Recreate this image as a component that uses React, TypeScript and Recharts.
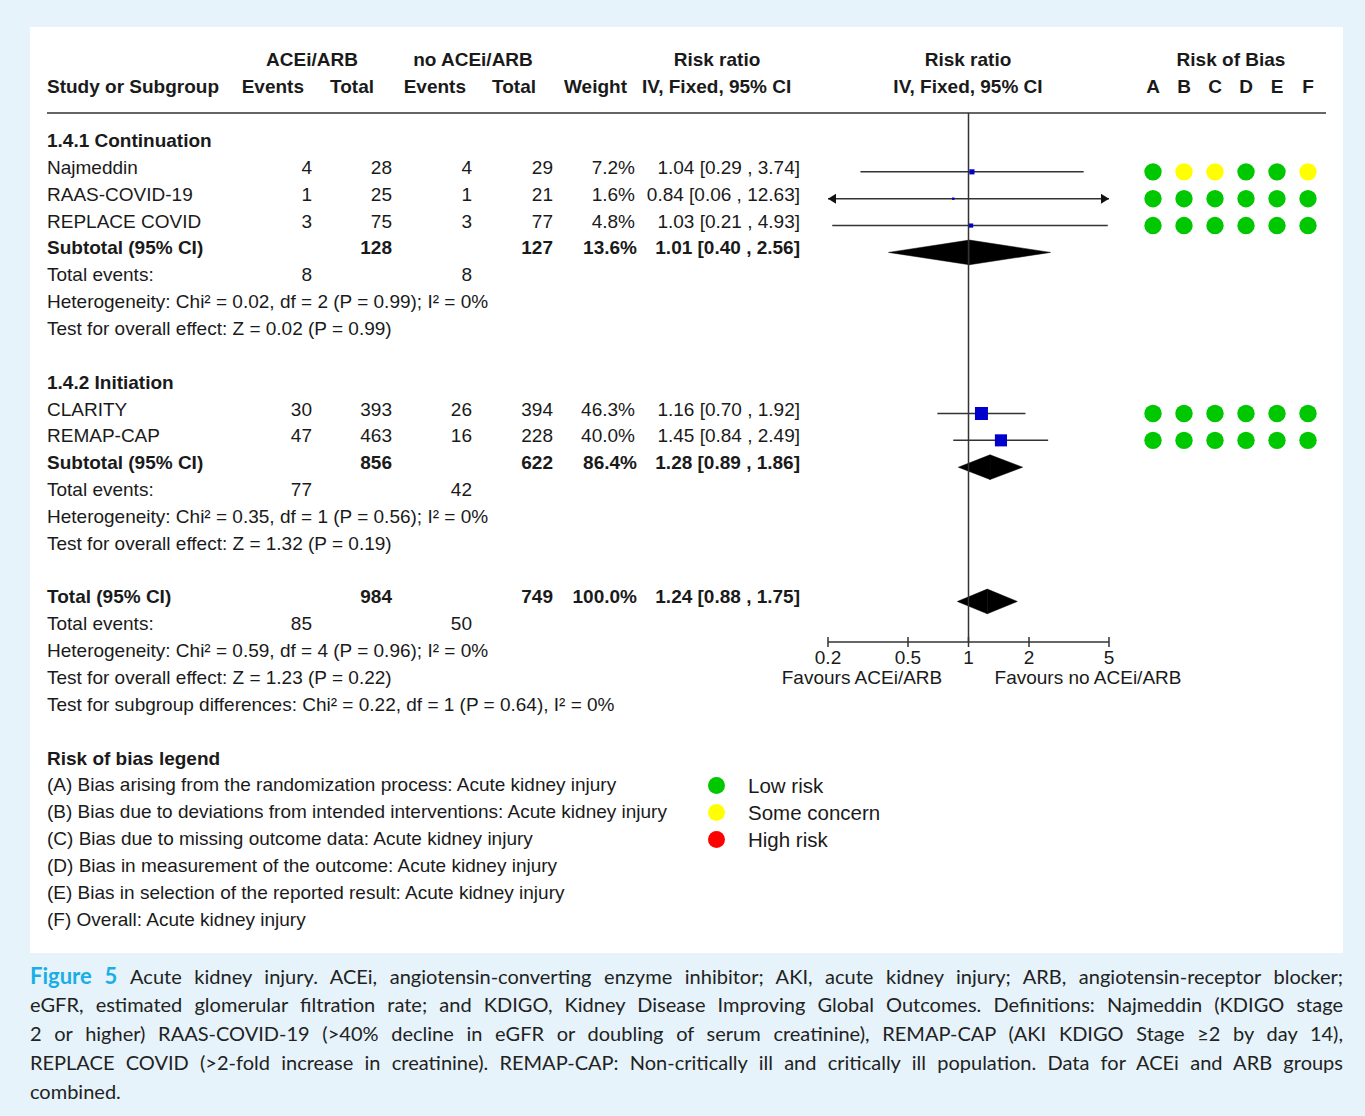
import React from "react";
import {
  ScatterChart,
  Scatter,
  XAxis,
  YAxis,
  ZAxis,
  ReferenceLine,
  ReferenceArea,
} from "recharts";

// ---- data ----
const studyNames = ["Najmeddin", "RAAS-COVID-19", "REPLACE COVID", "CLARITY", "REMAP-CAP"];
const studyRows = [1, 2, 3, 10, 11];
const aceEvents = [4, 1, 3, 30, 47];
const aceTotals = [28, 25, 75, 393, 463];
const noEvents = [4, 1, 3, 26, 16];
const noTotals = [29, 21, 77, 394, 228];
const weights = [7.2, 1.6, 4.8, 46.3, 40.0];
const ratios = [1.04, 0.84, 1.03, 1.16, 1.45];
const lowers = [0.29, 0.06, 0.21, 0.7, 0.84];
const uppers = [3.74, 12.63, 4.93, 1.92, 2.49];

const pooledLabels = ["Subtotal (95% CI)", "Subtotal (95% CI)", "Total (95% CI)"];
const pooledRows = [4, 12, 17];
const pooledAceTotals = [128, 856, 984];
const pooledNoTotals = [127, 622, 749];
const pooledWeights = [13.6, 86.4, 100.0];
const pooledRatios = [1.01, 1.28, 1.24];
const pooledLowers = [0.4, 0.89, 0.88];
const pooledUppers = [2.56, 1.86, 1.75];

const groupHeadings = ["1.4.1 Continuation", "1.4.2 Initiation"];
const groupRows = [0, 9];

const eventRows = [5, 13, 18];
const eventAce = [8, 77, 85];
const eventNo = [8, 42, 50];

const statTexts = [
  "Heterogeneity: Chi² = 0.02, df = 2 (P = 0.99); I² = 0%",
  "Test for overall effect: Z = 0.02 (P = 0.99)",
  "Heterogeneity: Chi² = 0.35, df = 1 (P = 0.56); I² = 0%",
  "Test for overall effect: Z = 1.32 (P = 0.19)",
  "Heterogeneity: Chi² = 0.59, df = 4 (P = 0.96); I² = 0%",
  "Test for overall effect: Z = 1.23 (P = 0.22)",
  "Test for subgroup differences: Chi² = 0.22, df = 1 (P = 0.64), I² = 0%",
];
const statRows = [6, 7, 14, 15, 19, 20, 21];

const robDomains = ["A", "B", "C", "D", "E", "F"];
const robRows = [1, 2, 3, 10, 11];
const robJudgements = [
  ["low", "some", "some", "low", "low", "some"],
  ["low", "low", "low", "low", "low", "low"],
  ["low", "low", "low", "low", "low", "low"],
  ["low", "low", "low", "low", "low", "low"],
  ["low", "low", "low", "low", "low", "low"],
];
const robLevels = ["low", "some", "high"];
const robLevelLabels = ["Low risk", "Some concern", "High risk"];
const robColors: Record<string, string> = { low: "#00c800", some: "#ffff00", high: "#ff0000" };

const legendTitle = "Risk of bias legend";
const legendItems = [
  "(A) Bias arising from the randomization process: Acute kidney injury",
  "(B) Bias due to deviations from intended interventions: Acute kidney injury",
  "(C) Bias due to missing outcome data: Acute kidney injury",
  "(D) Bias in measurement of the outcome: Acute kidney injury",
  "(E) Bias in selection of the reported result: Acute kidney injury",
  "(F) Overall: Acute kidney injury",
];

const rrDomain = [0.2, 5];
const rrTicks = [0.2, 0.5, 1, 2, 5];

const captionLines = [
  "Acute kidney injury. ACEi, angiotensin-converting enzyme inhibitor; AKI, acute kidney injury; ARB, angiotensin-receptor blocker;",
  "eGFR, estimated glomerular filtration rate; and KDIGO, Kidney Disease Improving Global Outcomes. Definitions: Najmeddin (KDIGO stage",
  "2 or higher) RAAS-COVID-19 (>40% decline in eGFR or doubling of serum creatinine), REMAP-CAP (AKI KDIGO Stage ≥2 by day 14),",
  "REPLACE COVID (>2-fold increase in creatinine). REMAP-CAP: Non-critically ill and critically ill population. Data for ACEi and ARB groups",
  "combined.",
];

// ---- layout ----
const W = 1365;
const H = 1116;
const ROW_Y0 = 140.5;
const ROW_H = 26.85;
const MARK_DY = 4.5;
const PLOT_TOP = 113;
const PLOT_BOTTOM = 642;
const yDomain = [
  (PLOT_TOP - ROW_Y0 - MARK_DY) / ROW_H,
  (PLOT_BOTTOM - ROW_Y0 - MARK_DY) / ROW_H,
];
const rowY = (r: number) => ROW_Y0 + ROW_H * r;
const TEXT = "#1a1a1a";
const LINE = "#333";

const fmtCI = (rr: number, lo: number, hi: number) =>
  `${rr.toFixed(2)} [${lo.toFixed(2)} , ${hi.toFixed(2)}]`;

function T({
  x,
  y,
  align = "left",
  bold = false,
  size = 19,
  children,
}: {
  x: number;
  y: number;
  align?: "left" | "right" | "center";
  bold?: boolean;
  size?: number;
  children: React.ReactNode;
}) {
  const style: React.CSSProperties = {
    position: "absolute",
    top: y - 13.5,
    height: 27,
    lineHeight: "27px",
    fontSize: size,
    fontWeight: bold ? 700 : 400,
    whiteSpace: "nowrap",
    color: TEXT,
  };
  if (align === "left") style.left = x;
  else if (align === "right") style.right = W - x;
  else {
    style.left = x - 300;
    style.width = 600;
    style.textAlign = "center";
  }
  return <div style={style}>{children}</div>;
}

const studyPoints = studyNames.map((_, i) => ({ x: ratios[i], y: studyRows[i], z: weights[i] }));
const robPoints = robRows.flatMap((row, i) =>
  robJudgements[i].map((level, d) => ({ x: d, y: row, level }))
);

const RRTick = (props: any) => {
  const { x, y, payload } = props;
  return (
    <g>
      <line x1={x} x2={x} y1={y - 5} y2={y + 5} stroke={LINE} strokeWidth={1.5} />
      <text x={x} y={y + 15} textAnchor="middle" dominantBaseline="central" fontSize={19} fill={TEXT}>
        {String(payload.value)}
      </text>
    </g>
  );
};

const RobTick = (props: any) => {
  const { x, y, payload } = props;
  return (
    <text x={x} y={y - 27} textAnchor="middle" dominantBaseline="central" fontSize={19} fontWeight={700} fill={TEXT}>
      {robDomains[payload.value]}
    </text>
  );
};

const RobDot = (props: any) => {
  const { cx, cy, payload } = props;
  return <circle cx={cx} cy={cy} r={8.7} fill={robColors[payload.level]} />;
};

const ciShape = (leftArrow: boolean, rightArrow: boolean) => (props: any) => {
  const a = Math.min(props.x1, props.x2);
  const b = Math.max(props.x1, props.x2);
  const y = props.y1;
  return (
    <g>
      <line x1={a} x2={b} y1={y} y2={y} stroke={LINE} strokeWidth={1.5} />
      {leftArrow && <polygon points={`${a},${y} ${a + 8},${y - 5} ${a + 8},${y + 5}`} fill="#111" />}
      {rightArrow && <polygon points={`${b},${y} ${b - 8},${y - 5} ${b - 8},${y + 5}`} fill="#111" />}
    </g>
  );
};

const leftHalf = (props: any) => {
  const { x, y, width, height } = props;
  return (
    <polygon
      points={`${x},${y + height / 2} ${x + width},${y} ${x + width},${y + height}`}
      fill="#000"
      stroke="#000"
      strokeWidth={0.5}
    />
  );
};
const rightHalf = (props: any) => {
  const { x, y, width, height } = props;
  return (
    <polygon
      points={`${x},${y} ${x + width},${y + height / 2} ${x},${y + height}`}
      fill="#000"
      stroke="#000"
      strokeWidth={0.5}
    />
  );
};

function ForestPlot() {
  const maxWeight = Math.max(...weights);
  return (
    <div style={{ position: "absolute", left: 780, top: 100 }}>
      <ScatterChart width={400} height={600} margin={{ top: 13, right: 71, bottom: 18, left: 48 }}>
        <XAxis
          type="number"
          dataKey="x"
          scale="log"
          domain={rrDomain}
          allowDataOverflow
          ticks={rrTicks}
          interval={0}
          height={40}
          tickSize={0}
          tickMargin={0}
          tickLine={false}
          axisLine={{ stroke: LINE, strokeWidth: 1.5 }}
          tick={(p: any) => <RRTick {...p} />}
        />
        <YAxis type="number" dataKey="y" domain={yDomain} reversed hide allowDataOverflow />
        <ZAxis type="number" dataKey="z" domain={[0, maxWeight]} range={[0, 169]} />
        <ReferenceLine x={1} stroke={LINE} strokeWidth={1.5} ifOverflow="visible" />
        {studyNames.map((name, i) => {
          const lo = Math.max(lowers[i], rrDomain[0]);
          const hi = Math.min(uppers[i], rrDomain[1]);
          return (
            <ReferenceLine
              key={name}
              segment={[
                { x: lo, y: studyRows[i] },
                { x: hi, y: studyRows[i] },
              ]}
              ifOverflow="visible"
              shape={ciShape(lowers[i] < rrDomain[0], uppers[i] > rrDomain[1])}
            />
          );
        })}
        {pooledRows.map((row, i) => (
          <ReferenceArea
            key={`l${i}`}
            x1={pooledLowers[i]}
            x2={pooledRatios[i]}
            y1={row - 0.46}
            y2={row + 0.46}
            ifOverflow="visible"
            shape={leftHalf}
          />
        ))}
        {pooledRows.map((row, i) => (
          <ReferenceArea
            key={`r${i}`}
            x1={pooledRatios[i]}
            x2={pooledUppers[i]}
            y1={row - 0.46}
            y2={row + 0.46}
            ifOverflow="visible"
            shape={rightHalf}
          />
        ))}
        <Scatter data={studyPoints} shape="square" fill="#0000cc" isAnimationActive={false} />
      </ScatterChart>
    </div>
  );
}

function RobPlot() {
  return (
    <div style={{ position: "absolute", left: 1130, top: 40 }}>
      <ScatterChart width={210} height={602} margin={{ top: 0, right: 16.5, bottom: 0, left: 7.5 }}>
        <XAxis
          type="number"
          dataKey="x"
          orientation="top"
          domain={[-0.5, robDomains.length - 0.5]}
          allowDataOverflow
          ticks={robDomains.map((_, i) => i)}
          interval={0}
          height={73}
          axisLine={false}
          tickLine={false}
          tickSize={0}
          tickMargin={0}
          tick={(p: any) => <RobTick {...p} />}
        />
        <YAxis type="number" dataKey="y" domain={yDomain} reversed hide allowDataOverflow />
        <Scatter data={robPoints} shape={RobDot} isAnimationActive={false} />
      </ScatterChart>
    </div>
  );
}

export default function App() {
  return (
    <div
      style={{
        position: "absolute",
        left: 0,
        top: 0,
        width: W,
        height: H,
        background: "#e6f3fa",
        fontFamily: '"Liberation Sans", Arial, sans-serif',
        overflow: "hidden",
      }}
    >
      <div style={{ position: "absolute", left: 30, top: 27, width: 1313, height: 926, background: "#fff" }} />

      {/* header */}
      <T x={312} y={59} align="center" bold>ACEi/ARB</T>
      <T x={473} y={59} align="center" bold>no ACEi/ARB</T>
      <T x={717} y={59} align="center" bold>Risk ratio</T>
      <T x={968} y={59} align="center" bold>Risk ratio</T>
      <T x={1231} y={59} align="center" bold>Risk of Bias</T>
      <T x={47} y={86} bold>Study or Subgroup</T>
      <T x={304} y={86} align="right" bold>Events</T>
      <T x={374} y={86} align="right" bold>Total</T>
      <T x={466} y={86} align="right" bold>Events</T>
      <T x={536} y={86} align="right" bold>Total</T>
      <T x={627} y={86} align="right" bold>Weight</T>
      <T x={642} y={86} bold>IV, Fixed, 95% CI</T>
      <T x={968} y={86} align="center" bold>IV, Fixed, 95% CI</T>
      <div style={{ position: "absolute", left: 47, top: 112, width: 1279, height: 2, background: "#666" }} />

      {groupHeadings.map((g, i) => (
        <T key={g} x={47} y={rowY(groupRows[i])} bold>{g}</T>
      ))}

      {studyNames.map((name, i) => {
        const y = rowY(studyRows[i]);
        return (
          <React.Fragment key={name}>
            <T x={47} y={y}>{name}</T>
            <T x={312} y={y} align="right">{aceEvents[i]}</T>
            <T x={392} y={y} align="right">{aceTotals[i]}</T>
            <T x={472} y={y} align="right">{noEvents[i]}</T>
            <T x={553} y={y} align="right">{noTotals[i]}</T>
            <T x={635} y={y} align="right">{weights[i].toFixed(1)}%</T>
            <T x={800} y={y} align="right">{fmtCI(ratios[i], lowers[i], uppers[i])}</T>
          </React.Fragment>
        );
      })}

      {pooledRows.map((row, i) => {
        const y = rowY(row);
        return (
          <React.Fragment key={row}>
            <T x={47} y={y} bold>{pooledLabels[i]}</T>
            <T x={392} y={y} align="right" bold>{pooledAceTotals[i]}</T>
            <T x={553} y={y} align="right" bold>{pooledNoTotals[i]}</T>
            <T x={637} y={y} align="right" bold>{pooledWeights[i].toFixed(1)}%</T>
            <T x={800} y={y} align="right" bold>{fmtCI(pooledRatios[i], pooledLowers[i], pooledUppers[i])}</T>
          </React.Fragment>
        );
      })}

      {eventRows.map((row, i) => (
        <React.Fragment key={row}>
          <T x={47} y={rowY(row)}>Total events:</T>
          <T x={312} y={rowY(row)} align="right">{eventAce[i]}</T>
          <T x={472} y={rowY(row)} align="right">{eventNo[i]}</T>
        </React.Fragment>
      ))}

      {statTexts.map((s, i) => (
        <T key={i} x={47} y={rowY(statRows[i])}>{s}</T>
      ))}

      <T x={47} y={rowY(23)} bold>{legendTitle}</T>
      {legendItems.map((s, i) => (
        <T key={s} x={47} y={rowY(24 + i)}>{s}</T>
      ))}

      {robLevels.map((lv, i) => (
        <React.Fragment key={lv}>
          <div
            style={{
              position: "absolute",
              left: 716 - 8.5,
              top: rowY(24 + i) + 1 - 8.5,
              width: 17,
              height: 17,
              borderRadius: "50%",
              background: robColors[lv],
            }}
          />
          <T x={748} y={rowY(24 + i) + 1} size={20.5}>{robLevelLabels[i]}</T>
        </React.Fragment>
      ))}

      <ForestPlot />
      <RobPlot />

      <T x={862} y={677} align="center">Favours ACEi/ARB</T>
      <T x={1088} y={677} align="center">Favours no ACEi/ARB</T>

      {/* caption */}
      <div
        style={{
          position: "absolute",
          left: 30,
          top: 961,
          width: 1313,
          fontFamily: "Lato, sans-serif",
          fontSize: 20,
          lineHeight: "29px",
          color: "#222",
        }}
      >
        {captionLines.map((line, i) => {
          const last = i === captionLines.length - 1;
          return (
            <div
              key={i}
              style={{
                height: 29,
                whiteSpace: "nowrap",
                textAlign: last ? "left" : "justify",
                textAlignLast: last ? "auto" : "justify",
              }}
            >
              {i === 0 && (
                <span style={{ color: "#19aee6", fontWeight: 700, fontSize: 22 }}>Figure 5 </span>
              )}
              {line}
            </div>
          );
        })}
      </div>
    </div>
  );
}
